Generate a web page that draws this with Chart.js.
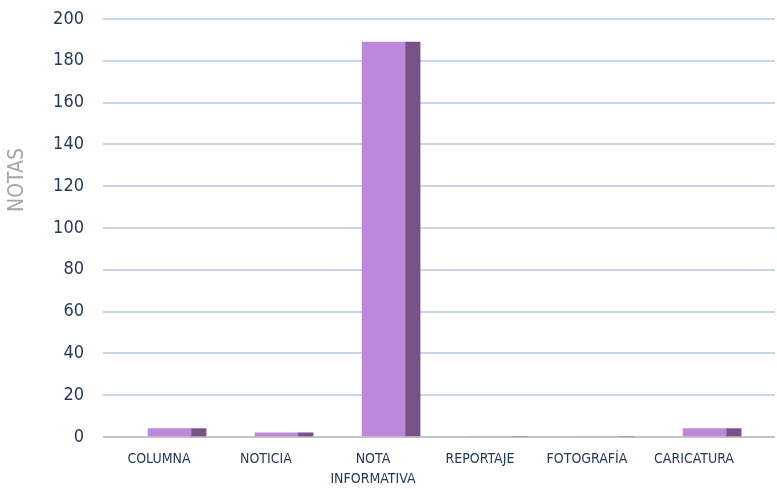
<!DOCTYPE html>
<html>
<head>
<meta charset="utf-8">
<script src="https://cdn.jsdelivr.net/npm/chart.js@4/dist/chart.umd.min.js"></script>
<style>
  html, body { margin: 0; padding: 0; background: #fff; }
  #wrap { width: 777px; height: 489px; }
</style>
</head>
<body>
<div id="wrap"><canvas id="chart"></canvas></div>
<script>
// Data
const categories = ['COLUMNA', 'NOTICIA', ['NOTA', 'INFORMATIVA'], 'REPORTAJE', 'FOTOGRAFÍA', 'CARICATURA'];
const notas = [4, 2, 189, 0, 0, 4];
const yTicks = [0, 20, 40, 60, 80, 100, 120, 140, 160, 180, 200];
const yTitle = 'NOTAS';

const narrow = "'DejaVu Sans Condensed', 'Liberation Sans Narrow', sans-serif";
const textColor = '#243b55';

// x range in category units, so labels sit ~107px apart like the original
const xMin = -0.523, xMax = 5.757;
const barShift = 0.3; // bars sit a bit right of their label (3D look)

const points = notas.map((v, i) => ({ x: i, y: v }));

// rotated axis title, placed like the original (not centred on the axis)
const yTitlePlugin = {
  id: 'yTitle',
  afterDraw(chart) {
    const ctx = chart.ctx;
    ctx.save();
    ctx.translate(18, 180);
    ctx.rotate(-Math.PI / 2);
    ctx.font = '21px ' + narrow;
    ctx.fillStyle = '#a6a6a6';
    ctx.textAlign = 'center';
    ctx.textBaseline = 'middle';
    ctx.fillText(yTitle, 0, 0);
    ctx.restore();
  }
};

new Chart(document.getElementById('chart'), {
  type: 'bar',
  data: {
    datasets: [
      {
        label: 'front',
        data: points,
        xAxisID: 'xb',
        backgroundColor: '#bd88d9',
        barThickness: 43
      },
      {
        label: 'side',
        data: points,
        xAxisID: 'xb',
        backgroundColor: '#775187',
        barThickness: 15
      }
    ]
  },
  options: {
    responsive: true,
    maintainAspectRatio: false,
    animation: false,
    layout: { padding: { top: 19, right: 2, left: 0, bottom: 0 } },
    plugins: {
      legend: { display: false },
      tooltip: { enabled: false }
    },
    scales: {
      x: {
        type: 'linear',
        position: 'bottom',
        bounds: 'data',
        offset: false,
        min: xMin,
        max: xMax,
        afterBuildTicks: s => { s.ticks = categories.map((c, i) => ({ value: i })); },
        grid: {
          display: true,
          color: 'rgba(0,0,0,0)',
          drawTicks: true,
          tickLength: 12,
          tickColor: 'rgba(0,0,0,0)'
        },
        border: { display: false },
        ticks: {
          autoSkip: false,
          maxRotation: 0,
          padding: 0,
          color: textColor,
          font: { family: narrow, size: 14, lineHeight: '20px' },
          callback: v => categories[v] !== undefined ? categories[v] : ''
        }
      },
      xb: {
        type: 'linear',
        display: false,
        bounds: 'data',
        offset: false,
        min: xMin - barShift,
        max: xMax - barShift
      },
      y: {
        min: 0,
        max: 200,
        afterBuildTicks: s => { s.ticks = yTicks.map(v => ({ value: v })); },
        afterFit: s => { s.width = 103; },
        grid: {
          drawTicks: true,
          tickLength: 19,
          tickColor: 'rgba(0,0,0,0)',
          lineWidth: 2,
          color: c => c.tick && c.tick.value === 0 ? '#c4c4c4' : '#c8d6ea'
        },
        border: { display: false },
        ticks: {
          padding: 0,
          color: textColor,
          font: { family: narrow, size: 18 }
        }
      }
    }
  },
  plugins: [yTitlePlugin]
});
</script>
</body>
</html>
